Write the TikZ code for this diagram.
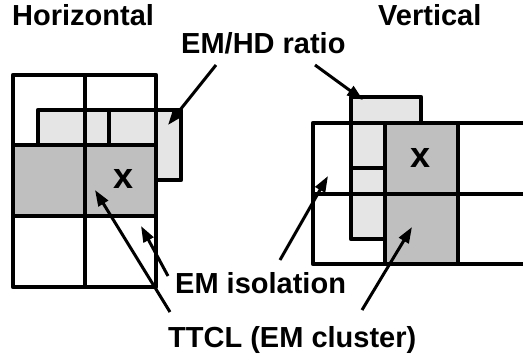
\documentclass[tikz,border=0pt]{standalone}
\usepackage{fontspec}
\setmainfont{Liberation Sans}
\usetikzlibrary{arrows.meta}
\definecolor{hdgray}{gray}{0.90}
\definecolor{emgray}{gray}{0.75}
\begin{document}
\begin{tikzpicture}[x=1pt,y=-1pt,
  gridline/.style={line width=4.8pt, line join=round},
  hdblock/.style={fill=hdgray, draw=black, line width=4.8pt, line join=round},
  emblock/.style={fill=emgray},
  lbl/.style={font=\fontsize{29}{33}\selectfont\bfseries, inner sep=0pt, anchor=base west},
  cellmark/.style={font=\fontsize{36}{40}\selectfont\bfseries, inner sep=0pt},
  pointer/.style={line width=3pt, -{Triangle[length=16pt,width=11pt]}}]
\useasboundingbox (0,0) rectangle (523,354);
\begin{scope}
\clip (0,0) rectangle (523,354);

% ---------- horizontal arrangement ----------
% HD strip (L-shaped) with its divider
\path[hdblock] (38,145) -- (38,110) -- (181,110) -- (181,180) -- (156,180) -- (156,145) -- cycle;
\draw[gridline] (109,110) -- (109,145);
% EM cluster row
\fill[emblock] (13,145) rectangle (156,216);
% cell grid
\draw[gridline] (13,75) rectangle (156,287);
\draw[gridline] (85,75) -- (85,287);
\draw[gridline] (13,145) -- (156,145);
\draw[gridline] (13,216) -- (156,216);
\node[cellmark] (hx) at (124,179) {x};

% ---------- vertical arrangement ----------
\path[hdblock] (351,239) -- (351,97) -- (421,97) -- (421,123) -- (385,123) -- (385,239) -- cycle;
\draw[gridline] (351,168) -- (385,168);
\fill[emblock] (385,123) rectangle (458,264);
\draw[gridline] (540,123) -- (313,123) -- (313,264) -- (540,264);
\draw[gridline] (313,194) -- (540,194);
\draw[gridline] (385,123) -- (385,264);
\draw[gridline] (458,123) -- (458,264);
\node[cellmark] (vx) at (421,158) {x};
\end{scope}

% ---------- labels ----------
\node[lbl] (hlabel) at (12,25) {Horizontal};
\node[lbl] (vlabel) at (378,25) {Vertical};
\node[lbl] (ratio) at (181,53) {EM/HD ratio};
\node[lbl] (iso) at (175,293) {EM isolation};
\node[lbl] (ttcl) at (168,347) {TTCL (EM cluster)};

% ---------- pointer end points ----------
\coordinate (ratioA) at (216,65);
\coordinate (ratioB) at (315,65);
\coordinate (hdH) at (168,125);
\coordinate (hdV) at (363,100);
\coordinate (isoA) at (168,276);
\coordinate (isoB) at (280,260);
\coordinate (gapH) at (141,226);
\coordinate (gapV) at (328,176);
\coordinate (ttclA) at (170,312);
\coordinate (ttclB) at (362,310);
\coordinate (emH) at (95,190);
\coordinate (emV) at (412,227);

\draw[pointer] (ratioA) -- (hdH);
\draw[pointer] (ratioB) -- (hdV);
\draw[pointer] (isoA) -- (gapH);
\draw[pointer] (isoB) -- (gapV);
\draw[pointer] (ttclA) -- (emH);
\draw[pointer] (ttclB) -- (emV);
\end{tikzpicture}
\end{document}
